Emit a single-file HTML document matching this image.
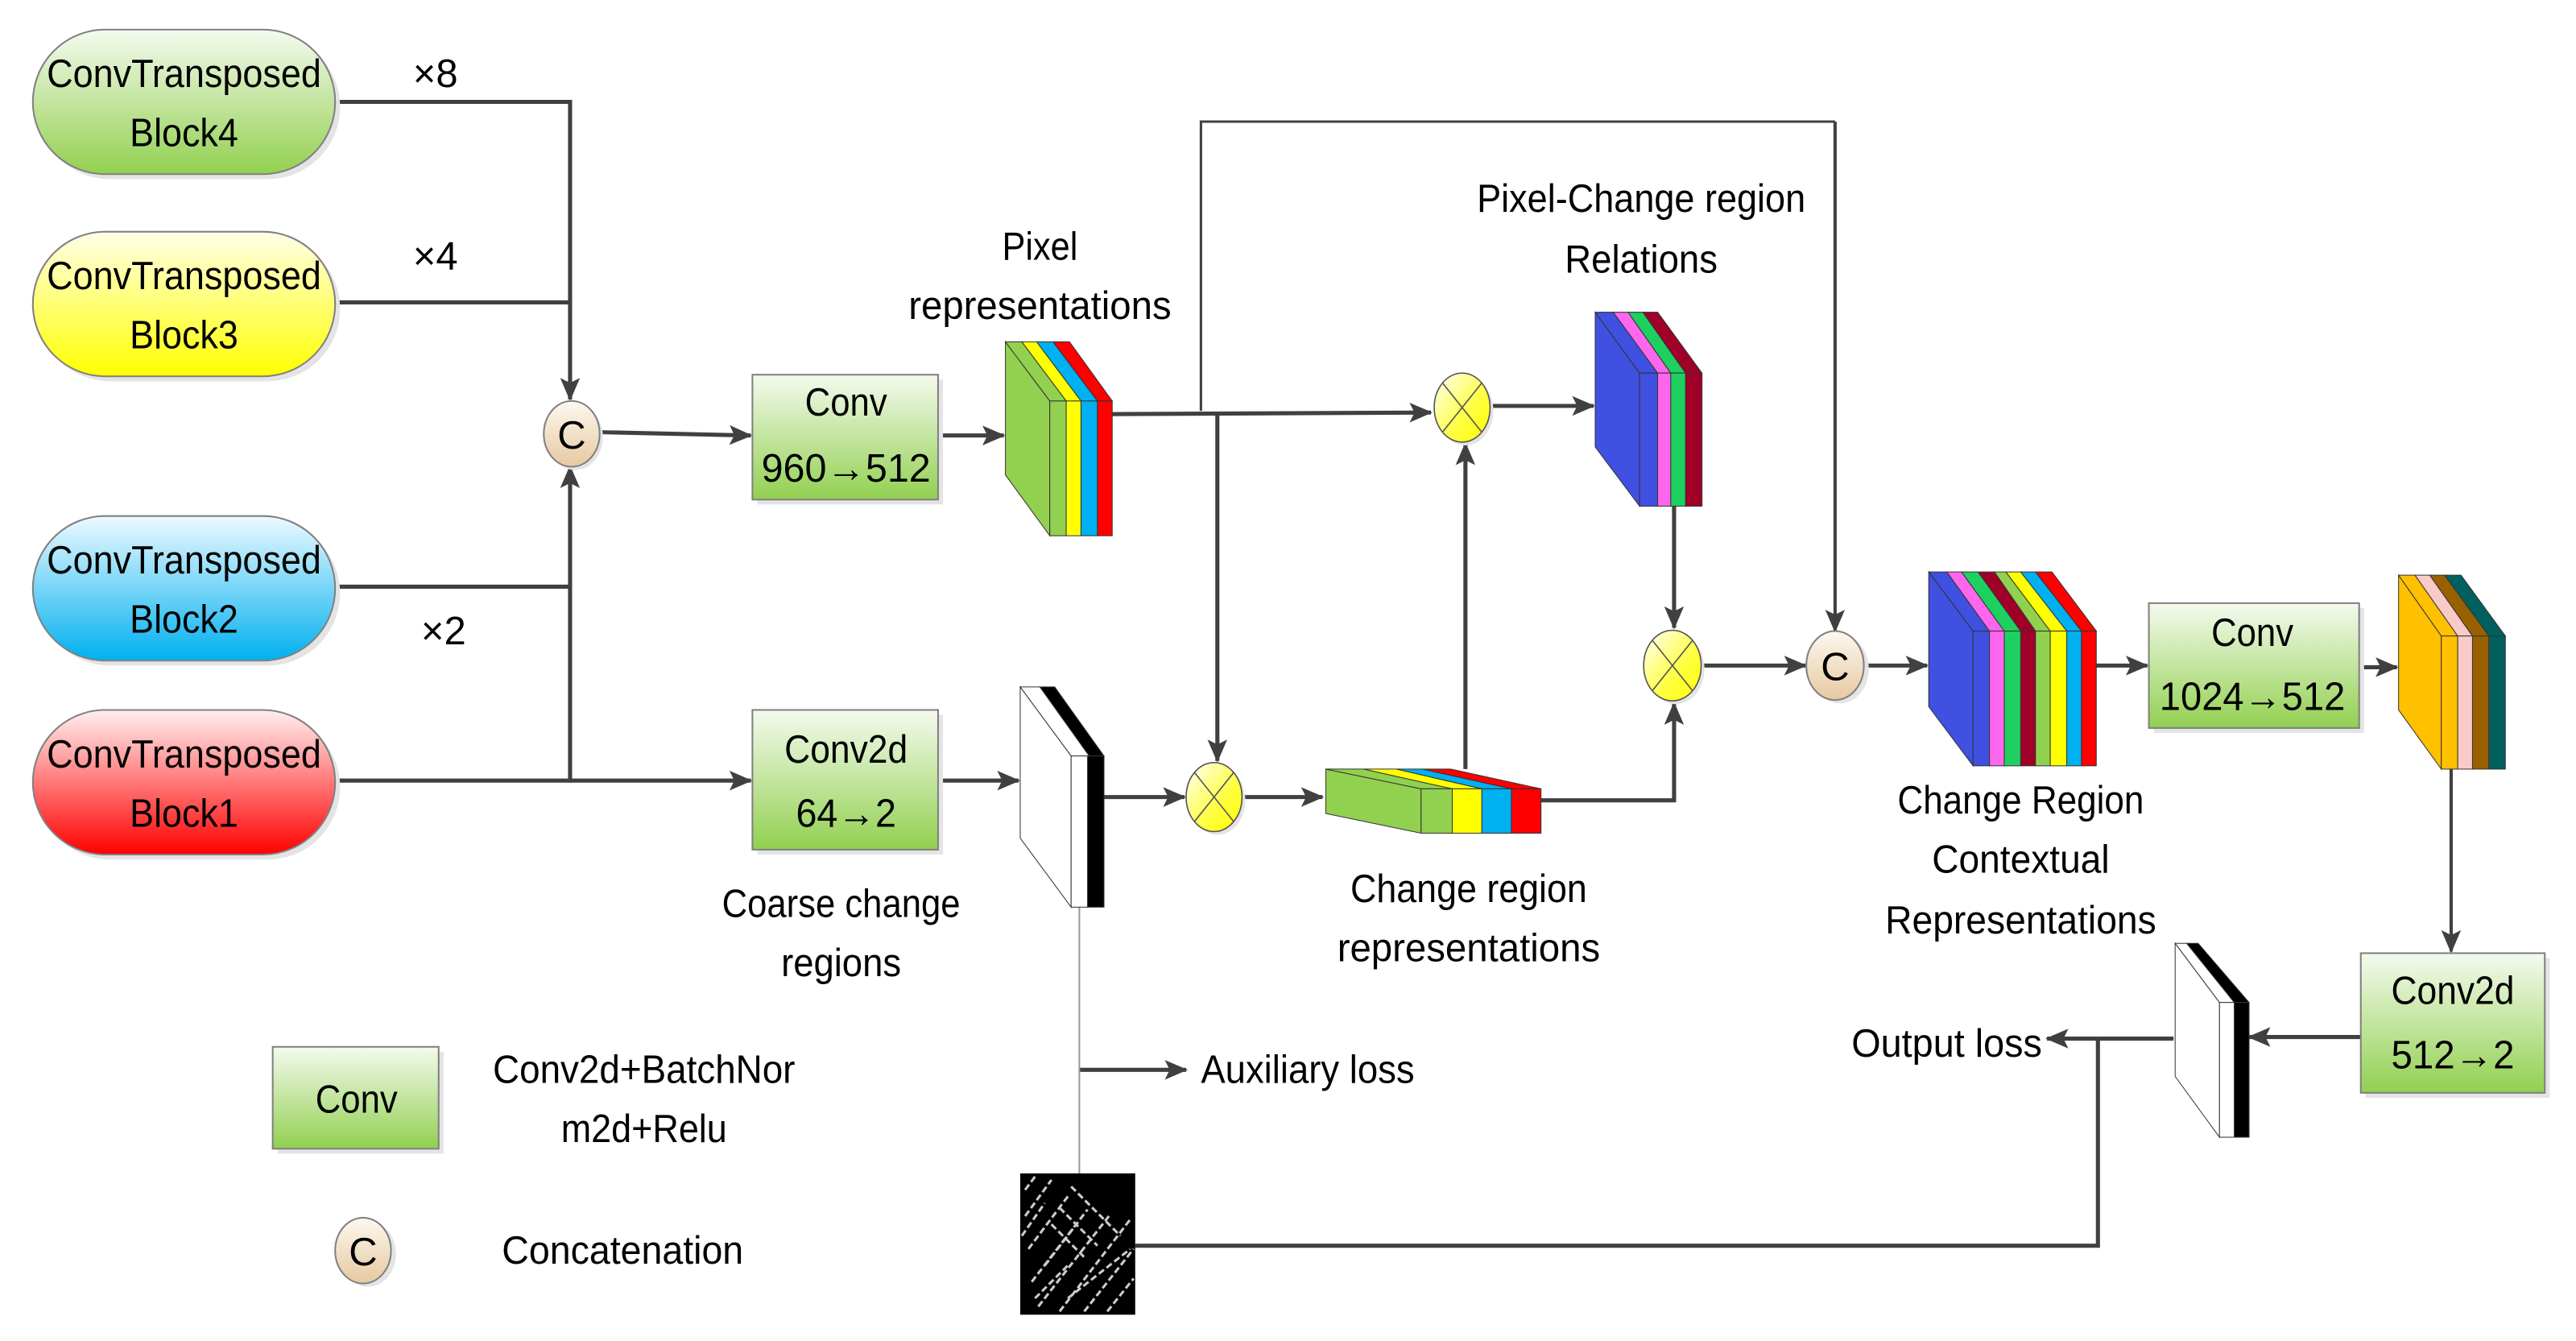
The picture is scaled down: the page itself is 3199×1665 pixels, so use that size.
<!DOCTYPE html>
<html><head><meta charset="utf-8"><style>
html,body{margin:0;padding:0;background:#fff;}
svg{display:block;}
text{font-family:"Liberation Sans Narrow","Liberation Sans",sans-serif;font-size:24px;fill:#000;text-anchor:middle;}
</style></head><body>
<svg width="3199" height="1665" viewBox="0 0 1568 816" preserveAspectRatio="none" xmlns="http://www.w3.org/2000/svg">
<defs>
<linearGradient id="gG" x1="0" y1="0" x2="0" y2="1"><stop offset="0" stop-color="#f4faee"/><stop offset="1" stop-color="#92d050"/></linearGradient>
<linearGradient id="gY" x1="0" y1="0" x2="0" y2="1"><stop offset="0" stop-color="#ffffe8"/><stop offset="1" stop-color="#ffff00"/></linearGradient>
<linearGradient id="gB" x1="0" y1="0" x2="0" y2="1"><stop offset="0" stop-color="#eefaff"/><stop offset="1" stop-color="#00b0f0"/></linearGradient>
<linearGradient id="gR" x1="0" y1="0" x2="0" y2="1"><stop offset="0" stop-color="#fff0f0"/><stop offset="1" stop-color="#ff0000"/></linearGradient>
<linearGradient id="gC" x1="0" y1="0" x2="0" y2="1"><stop offset="0" stop-color="#fdf8f0"/><stop offset="1" stop-color="#e6c9a0"/></linearGradient>
<linearGradient id="gM" x1="0" y1="0" x2="1" y2="1"><stop offset="0" stop-color="#ffffff"/><stop offset="0.6" stop-color="#ffff40"/><stop offset="1" stop-color="#ffff00"/></linearGradient>
<marker id="ar" markerWidth="14" markerHeight="12" refX="13" refY="6" orient="auto" markerUnits="userSpaceOnUse"><path d="M0,0 L14,6 L0,12 L3,6 Z" fill="#404040"/></marker>
</defs>

<g stroke="#404040" stroke-width="2.5" fill="none">
<path d="M204,62 H347 V243" marker-end="url(#ar)"/>
<path d="M204,184 H347"/>
<path d="M204,357 H347"/>
<path d="M204,475 H347 V284" marker-end="url(#ar)"/>
<path d="M347,475 H457" marker-end="url(#ar)"/>
<path d="M366,263 L457,265" marker-end="url(#ar)"/>
<path d="M571,265 H611" marker-end="url(#ar)"/>
<path d="M677,252 L871,251" marker-end="url(#ar)"/>
<path d="M741,252 V463" marker-end="url(#ar)"/>
<path d="M907,247 H970" marker-end="url(#ar)"/>
<path d="M892,468 V270" marker-end="url(#ar)"/>
<path d="M1019,308 V382" marker-end="url(#ar)"/>
<path d="M938,487 H1019 V428" marker-end="url(#ar)"/>
<path d="M1036,405 H1099" marker-end="url(#ar)"/>
<path d="M1117,74 V384" stroke-width="2" marker-end="url(#ar)"/>
<path d="M731,250 V74 H1117" stroke-width="1.5"/>
<path d="M1135,405 H1173" marker-end="url(#ar)"/>
<path d="M1276,405 H1307" marker-end="url(#ar)"/>
<path d="M1436,406 H1459" marker-end="url(#ar)"/>
<path d="M571,475 H620" marker-end="url(#ar)"/>
<path d="M671,485 H721" marker-end="url(#ar)"/>
<path d="M757,485 H805" marker-end="url(#ar)"/>
<path d="M1492,468 V579" stroke-width="2" marker-end="url(#ar)"/>
<path d="M1437,631 H1369" marker-end="url(#ar)"/>
<path d="M1323,632 H1246" marker-end="url(#ar)"/>
<path d="M691,758 H1277 V632" />
<path d="M657,651 H722" marker-end="url(#ar)"/>
<path d="M657,552 V714" stroke="#999" stroke-width="1"/>
</g>

<g stroke="#808080" stroke-width="1">
<rect x="23" y="21" width="184" height="88" rx="44" fill="#e4e4e4" stroke="none"/>
<rect x="20" y="18" width="184" height="88" rx="44" fill="url(#gG)"/>
<rect x="23" y="144" width="184" height="88" rx="44" fill="#e4e4e4" stroke="none"/>
<rect x="20" y="141" width="184" height="88" rx="44" fill="url(#gY)"/>
<rect x="23" y="317" width="184" height="88" rx="44" fill="#e4e4e4" stroke="none"/>
<rect x="20" y="314" width="184" height="88" rx="44" fill="url(#gB)"/>
<rect x="23" y="435" width="184" height="88" rx="44" fill="#e4e4e4" stroke="none"/>
<rect x="20" y="432" width="184" height="88" rx="44" fill="url(#gR)"/>
</g>
<text x="112" y="53" textLength="167" lengthAdjust="spacingAndGlyphs">ConvTransposed</text>
<text x="112" y="89" textLength="66" lengthAdjust="spacingAndGlyphs">Block4</text>
<text x="112" y="176" textLength="167" lengthAdjust="spacingAndGlyphs">ConvTransposed</text>
<text x="112" y="212" textLength="66" lengthAdjust="spacingAndGlyphs">Block3</text>
<text x="112" y="349" textLength="167" lengthAdjust="spacingAndGlyphs">ConvTransposed</text>
<text x="112" y="385" textLength="66" lengthAdjust="spacingAndGlyphs">Block2</text>
<text x="112" y="467" textLength="167" lengthAdjust="spacingAndGlyphs">ConvTransposed</text>
<text x="112" y="503" textLength="66" lengthAdjust="spacingAndGlyphs">Block1</text>
<text x="265" y="53">×8</text>
<text x="265" y="164">×4</text>
<text x="270" y="392">×2</text>

<g stroke="#808080" stroke-width="1">
<ellipse cx="350" cy="266" rx="17" ry="20" fill="#e4e4e4" stroke="none"/>
<ellipse cx="348" cy="264" rx="17" ry="20" fill="url(#gC)"/>
<ellipse cx="1120" cy="407" rx="17.5" ry="21" fill="#e4e4e4" stroke="none"/>
<ellipse cx="1117" cy="405" rx="17.5" ry="21" fill="url(#gC)"/>
<ellipse cx="224" cy="763" rx="17" ry="20" fill="#e4e4e4" stroke="none"/>
<ellipse cx="221" cy="761" rx="17" ry="20" fill="url(#gC)"/>
</g>
<text x="348" y="273" font-size="22">C</text>
<text x="1117" y="414" font-size="22">C</text>
<text x="221" y="770" font-size="22">C</text>

<g stroke="#555" stroke-width="0.8">
<ellipse cx="892" cy="250" rx="17" ry="21" fill="#e4e4e4" stroke="none"/>
<ellipse cx="890" cy="248" rx="17" ry="21" fill="url(#gM)"/>
<path d="M878,233 L902,263 M902,233 L878,263"/>
<ellipse cx="741" cy="487" rx="17" ry="21" fill="#e4e4e4" stroke="none"/>
<ellipse cx="739" cy="485" rx="17" ry="21" fill="url(#gM)"/>
<path d="M727,470 L751,500 M751,470 L727,500"/>
<ellipse cx="1020" cy="407" rx="17.5" ry="21.5" fill="#e4e4e4" stroke="none"/>
<ellipse cx="1018" cy="405" rx="17.5" ry="21.5" fill="url(#gM)"/>
<path d="M1006,390 L1030,420 M1030,390 L1006,420"/>
</g>

<g stroke="#808080" stroke-width="1">
<rect x="461" y="231" width="113" height="76" fill="#e4e4e4" stroke="none"/>
<rect x="458" y="228" width="113" height="76" fill="url(#gG)"/>
<rect x="461" y="435" width="113" height="85" fill="#e4e4e4" stroke="none"/>
<rect x="458" y="432" width="113" height="85" fill="url(#gG)"/>
<rect x="1311" y="370" width="128" height="76" fill="#e4e4e4" stroke="none"/>
<rect x="1308" y="367" width="128" height="76" fill="url(#gG)"/>
<rect x="1440" y="583" width="112" height="85" fill="#e4e4e4" stroke="none"/>
<rect x="1437" y="580" width="112" height="85" fill="url(#gG)"/>
<rect x="169" y="640" width="101" height="62" fill="#e4e4e4" stroke="none"/>
<rect x="166" y="637" width="101" height="62" fill="url(#gG)"/>
</g>
<text x="515" y="253" textLength="50" lengthAdjust="spacingAndGlyphs">Conv</text>
<text x="515" y="293" textLength="103" lengthAdjust="spacingAndGlyphs">960→512</text>
<text x="515" y="464" textLength="75" lengthAdjust="spacingAndGlyphs">Conv2d</text>
<text x="515" y="503" textLength="61" lengthAdjust="spacingAndGlyphs">64→2</text>
<text x="1371" y="393" textLength="50" lengthAdjust="spacingAndGlyphs">Conv</text>
<text x="1371" y="432" textLength="113" lengthAdjust="spacingAndGlyphs">1024→512</text>
<text x="1493" y="611" textLength="75" lengthAdjust="spacingAndGlyphs">Conv2d</text>
<text x="1493" y="650" textLength="75" lengthAdjust="spacingAndGlyphs">512→2</text>
<text x="217" y="677" textLength="50" lengthAdjust="spacingAndGlyphs">Conv</text>

<g stroke="#333" stroke-width="0.5">
<polygon points="612,208 639,244 639,326 612,289" fill="#92d050"/>
<polygon points="612,208 622,208 649,244 639,244" fill="#92d050"/>
<polygon points="622,208 631,208 658,244 649,244" fill="#ffff00"/>
<polygon points="631,208 641,208 668,244 658,244" fill="#00b0f0"/>
<polygon points="641,208 651,208 677,244 668,244" fill="#ff0000"/>
<rect x="639" y="244" width="10" height="82" fill="#92d050"/>
<rect x="649" y="244" width="9" height="82" fill="#ffff00"/>
<rect x="658" y="244" width="10" height="82" fill="#00b0f0"/>
<rect x="668" y="244" width="9" height="82" fill="#ff0000"/>
</g>

<g stroke="#333" stroke-width="0.5">
<polygon points="971,190 998,227 998,308 971,272" fill="#4050e0"/>
<polygon points="971,190 982,190 1009,227 998,227" fill="#4050e0"/>
<polygon points="982,190 991,190 1017,227 1009,227" fill="#ff66ee"/>
<polygon points="991,190 1000,190 1026,227 1017,227" fill="#1ed060"/>
<polygon points="1000,190 1009,190 1036,227 1026,227" fill="#a00028"/>
<rect x="998" y="227" width="11" height="81" fill="#4050e0"/>
<rect x="1009" y="227" width="8" height="81" fill="#ff66ee"/>
<rect x="1017" y="227" width="9" height="81" fill="#1ed060"/>
<rect x="1026" y="227" width="10" height="81" fill="#a00028"/>
</g>

<g stroke="#333" stroke-width="0.5">
<polygon points="1174,348 1201,384 1201,466 1174,430" fill="#4050e0"/>
<polygon points="1174,348 1185,348 1211,384 1201,384" fill="#4050e0"/>
<polygon points="1185,348 1194,348 1220,384 1211,384" fill="#ff66ee"/>
<polygon points="1194,348 1204,348 1230,384 1220,384" fill="#1ed060"/>
<polygon points="1204,348 1214,348 1239,384 1230,384" fill="#a00028"/>
<polygon points="1214,348 1221,348 1248,384 1239,384" fill="#92d050"/>
<polygon points="1221,348 1230,348 1258,384 1248,384" fill="#ffff00"/>
<polygon points="1230,348 1239,348 1267,384 1258,384" fill="#00b0f0"/>
<polygon points="1239,348 1249,348 1276,384 1267,384" fill="#ff0000"/>
<rect x="1201" y="384" width="10" height="82" fill="#4050e0"/>
<rect x="1211" y="384" width="9" height="82" fill="#ff66ee"/>
<rect x="1220" y="384" width="10" height="82" fill="#1ed060"/>
<rect x="1230" y="384" width="9" height="82" fill="#a00028"/>
<rect x="1239" y="384" width="9" height="82" fill="#92d050"/>
<rect x="1248" y="384" width="10" height="82" fill="#ffff00"/>
<rect x="1258" y="384" width="9" height="82" fill="#00b0f0"/>
<rect x="1267" y="384" width="9" height="82" fill="#ff0000"/>
</g>

<g stroke="#333" stroke-width="0.5">
<polygon points="1460,350 1486,387 1486,468 1460,432" fill="#ffc000"/>
<polygon points="1460,350 1470,350 1496,387 1486,387" fill="#ffc000"/>
<polygon points="1470,350 1479,350 1505,387 1496,387" fill="#f8cbc8"/>
<polygon points="1479,350 1488,350 1515,387 1505,387" fill="#996000"/>
<polygon points="1488,350 1498,350 1525,387 1515,387" fill="#006060"/>
<rect x="1486" y="387" width="10" height="81" fill="#ffc000"/>
<rect x="1496" y="387" width="9" height="81" fill="#f8cbc8"/>
<rect x="1505" y="387" width="10" height="81" fill="#996000"/>
<rect x="1515" y="387" width="10" height="81" fill="#006060"/>
</g>

<g stroke="#333" stroke-width="0.5">
<polygon points="621,418 652,460 652,552 621,510" fill="#fff"/>
<polygon points="621,418 633,418 663,460 652,460" fill="#fff"/>
<polygon points="633,418 642,418 672,460 663,460" fill="#000"/>
<rect x="652" y="460" width="10" height="92" fill="#fff"/>
<rect x="662" y="460" width="10" height="92" fill="#000"/>
</g>

<g stroke="#333" stroke-width="0.5">
<polygon points="807,468 865,480 865,507 807,495" fill="#92d050"/>
<polygon points="807,468 830,468 884,480 865,480" fill="#92d050"/>
<polygon points="830,468 850,468 902,480 884,480" fill="#ffff00"/>
<polygon points="850,468 866,468 920,480 902,480" fill="#00b0f0"/>
<polygon points="866,468 883,468 938,480 920,480" fill="#ff0000"/>
<rect x="865" y="480" width="19" height="27" fill="#92d050"/>
<rect x="884" y="480" width="18" height="27" fill="#ffff00"/>
<rect x="902" y="480" width="18" height="27" fill="#00b0f0"/>
<rect x="920" y="480" width="18" height="27" fill="#ff0000"/>
</g>

<g stroke="#333" stroke-width="0.5">
<polygon points="1324,574 1351,610 1351,692 1324,655" fill="#fff"/>
<polygon points="1324,574 1331,574 1360,610 1351,610" fill="#fff"/>
<polygon points="1331,574 1338,574 1369,610 1360,610" fill="#000"/>
<rect x="1351" y="610" width="9" height="82" fill="#fff"/>
<rect x="1360" y="610" width="9" height="82" fill="#000"/>
</g>

<rect x="621" y="714" width="70" height="86" fill="#000"/>
<g stroke="#ccc" stroke-width="1.5" stroke-dasharray="4 2">
<path d="M624,740 L640,718 M626,760 L650,728 M628,780 L662,736 M632,795 L675,740 M645,798 L688,742 M660,798 L690,760 M674,798 L690,778 M624,724 L630,716 M650,790 L688,760 M636,770 L656,744 M622,752 L636,732"/>
<path d="M640,745 L660,765 M645,735 L668,758 M652,722 L682,752 M630,790 L650,770"/>
</g>

<text x="633" y="158" textLength="46" lengthAdjust="spacingAndGlyphs">Pixel</text>
<text x="633" y="194" textLength="160" lengthAdjust="spacingAndGlyphs">representations</text>
<text x="999" y="129" textLength="200" lengthAdjust="spacingAndGlyphs">Pixel-Change region</text>
<text x="999" y="166" textLength="93" lengthAdjust="spacingAndGlyphs">Relations</text>
<text x="1230" y="495" textLength="150" lengthAdjust="spacingAndGlyphs">Change Region</text>
<text x="1230" y="531" textLength="108" lengthAdjust="spacingAndGlyphs">Contextual</text>
<text x="1230" y="568" textLength="165" lengthAdjust="spacingAndGlyphs">Representations</text>
<text x="894" y="549" textLength="144" lengthAdjust="spacingAndGlyphs">Change region</text>
<text x="894" y="585" textLength="160" lengthAdjust="spacingAndGlyphs">representations</text>
<text x="512" y="558" textLength="145" lengthAdjust="spacingAndGlyphs">Coarse change</text>
<text x="512" y="594" textLength="73" lengthAdjust="spacingAndGlyphs">regions</text>
<text x="796" y="659" textLength="130" lengthAdjust="spacingAndGlyphs">Auxiliary loss</text>
<text x="1185" y="643" textLength="116" lengthAdjust="spacingAndGlyphs">Output loss</text>
<text x="392" y="659" textLength="184" lengthAdjust="spacingAndGlyphs">Conv2d+BatchNor</text>
<text x="392" y="695" textLength="101" lengthAdjust="spacingAndGlyphs">m2d+Relu</text>
<text x="379" y="769" textLength="147" lengthAdjust="spacingAndGlyphs">Concatenation</text>
</svg>
</body></html>
